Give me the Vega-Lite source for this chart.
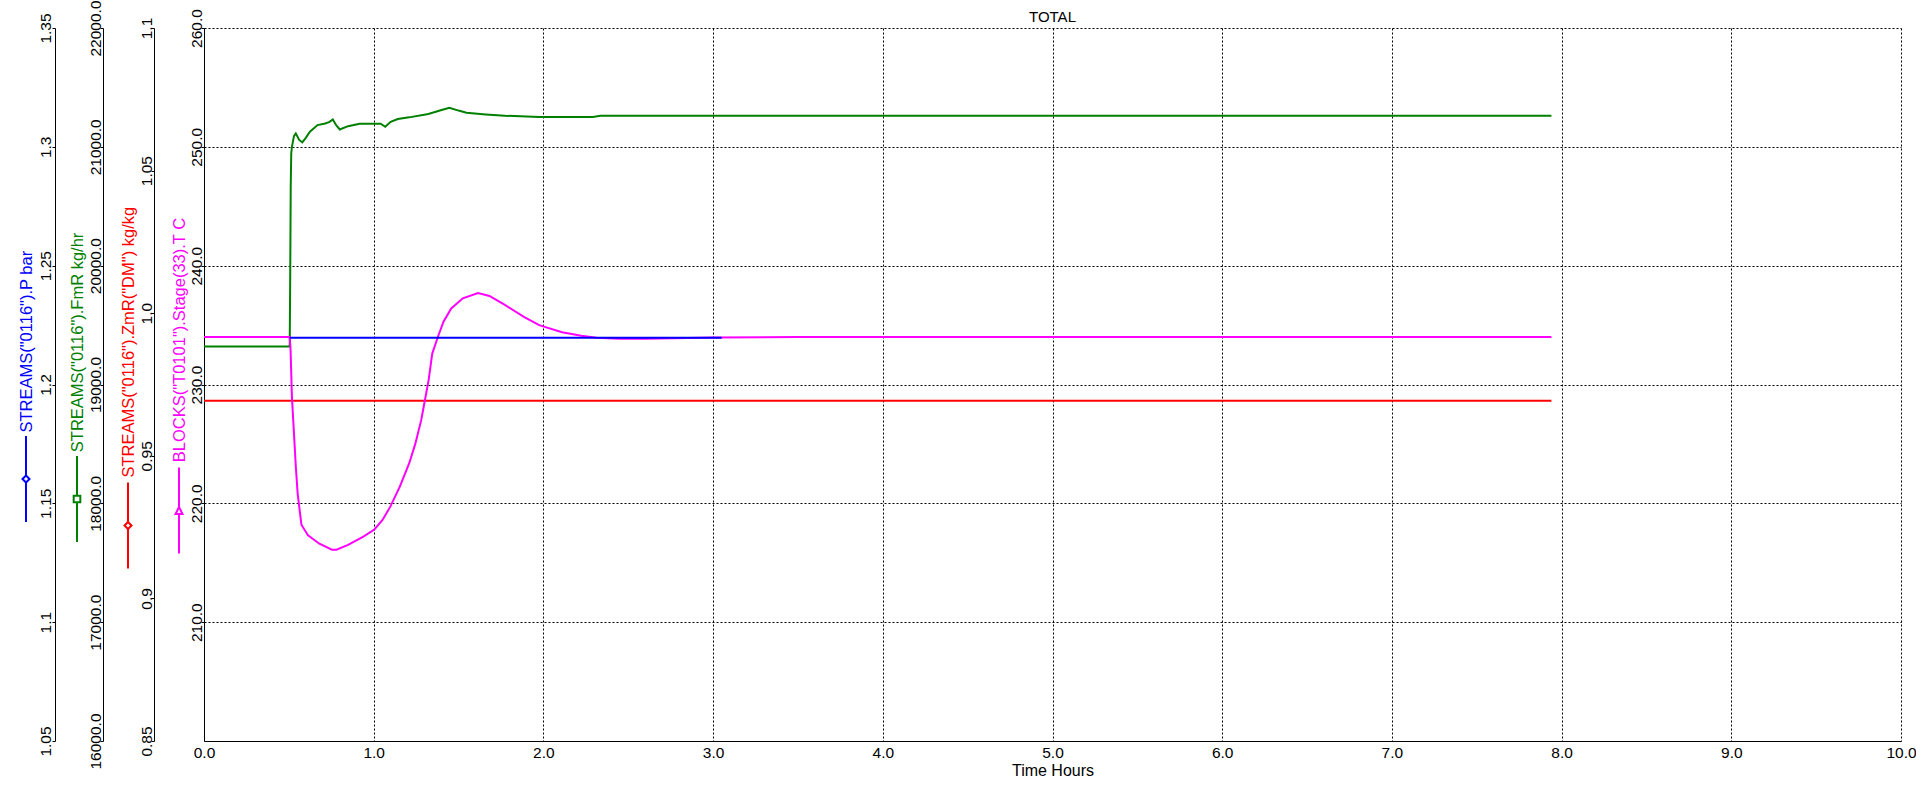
{
  "$schema": "https://vega.github.io/schema/vega-lite/v6.json",
  "autosize": {"type": "none"},
  "padding": {"left": 204, "top": 28, "right": 15, "bottom": 47},
  "width": 1697,
  "height": 713,
  "background": "#ffffff",
  "title": {"text": "TOTAL", "fontSize": 15, "fontWeight": "normal", "baseline": "alphabetic", "offset": -37, "color": "#000000", "anchor": "middle"},
  "config": {
    "font": "Liberation Sans",
    "view": {"stroke": null},
    "axis": {"labelColor": "#000000", "domainColor": "#000000", "tickColor": "#000000", "labelFontSize": 15.5, "labelFlush": false, "labelOverlap": false, "labelBound": false, "titleFontWeight": "normal", "domainWidth": 1, "tickWidth": 1},
    "line": {"strokeWidth": 2}
  },
  "datasets": {
    "T": [
      {"t": 0, "v": 234.0}, {"t": 0.505, "v": 234.0}, {"t": 0.51, "v": 233.0}, {"t": 0.518, "v": 229.0}, {"t": 0.527, "v": 226.7},
      {"t": 0.541, "v": 223.1}, {"t": 0.552, "v": 220.8}, {"t": 0.574, "v": 218.2}, {"t": 0.613, "v": 217.3}, {"t": 0.68, "v": 216.6},
      {"t": 0.754, "v": 216.1}, {"t": 0.781, "v": 216.1}, {"t": 0.849, "v": 216.5}, {"t": 0.939, "v": 217.2}, {"t": 1.004, "v": 217.8},
      {"t": 1.052, "v": 218.6}, {"t": 1.097, "v": 219.7}, {"t": 1.154, "v": 221.4}, {"t": 1.21, "v": 223.4}, {"t": 1.245, "v": 225.0},
      {"t": 1.28, "v": 227.0}, {"t": 1.302, "v": 228.7}, {"t": 1.324, "v": 230.4}, {"t": 1.345, "v": 232.6}, {"t": 1.378, "v": 234.0},
      {"t": 1.412, "v": 235.3}, {"t": 1.457, "v": 236.4}, {"t": 1.525, "v": 237.25}, {"t": 1.615, "v": 237.7}, {"t": 1.682, "v": 237.45},
      {"t": 1.773, "v": 236.7}, {"t": 1.885, "v": 235.7}, {"t": 1.975, "v": 235.0}, {"t": 2.11, "v": 234.4}, {"t": 2.223, "v": 234.1},
      {"t": 2.313, "v": 233.93}, {"t": 2.448, "v": 233.85}, {"t": 2.606, "v": 233.85}, {"t": 3.011, "v": 233.96}, {"t": 3.5, "v": 234.0},
      {"t": 7.94, "v": 234.0}
    ],
    "P": [
      {"t": 0.505, "v": 1.2197}, {"t": 3.05, "v": 1.2197}
    ],
    "Z": [
      {"t": 0, "v": 0.9693}, {"t": 7.94, "v": 0.9693}
    ],
    "F": [
      {"t": 0, "v": 19320}, {"t": 0.505, "v": 19320}, {"t": 0.508, "v": 19900}, {"t": 0.511, "v": 20662}, {"t": 0.514, "v": 20944},
      {"t": 0.518, "v": 20997}, {"t": 0.53, "v": 21090}, {"t": 0.541, "v": 21113}, {"t": 0.56, "v": 21060}, {"t": 0.579, "v": 21037},
      {"t": 0.6, "v": 21075}, {"t": 0.624, "v": 21127}, {"t": 0.669, "v": 21183}, {"t": 0.714, "v": 21197}, {"t": 0.74, "v": 21210},
      {"t": 0.759, "v": 21231}, {"t": 0.78, "v": 21180}, {"t": 0.8, "v": 21146}, {"t": 0.849, "v": 21174}, {"t": 0.917, "v": 21194},
      {"t": 1.041, "v": 21194}, {"t": 1.068, "v": 21169}, {"t": 1.1, "v": 21210}, {"t": 1.142, "v": 21234}, {"t": 1.209, "v": 21248},
      {"t": 1.322, "v": 21276}, {"t": 1.4, "v": 21310}, {"t": 1.446, "v": 21329}, {"t": 1.5, "v": 21305}, {"t": 1.547, "v": 21287},
      {"t": 1.66, "v": 21273}, {"t": 1.773, "v": 21262}, {"t": 1.975, "v": 21251}, {"t": 2.291, "v": 21251}, {"t": 2.336, "v": 21262},
      {"t": 7.94, "v": 21262}
    ]
  },
  "encoding": {
    "x": {
      "field": "t", "type": "quantitative",
      "scale": {"domain": [0, 10], "nice": false, "zero": false},
      "axis": {"values": [0, 1, 2, 3, 4, 5, 6, 7, 8, 9, 10], "format": ".1f", "title": "Time Hours", "grid": true, "gridDash": [2, 2], "gridColor": "#000000", "gridOpacity": 1, "ticks": false, "labelPadding": 4, "titleFontSize": 16, "titleColor": "#000000", "titlePadding": 2}
    }
  },
  "layer": [
    {
      "data": {"name": "Z"},
      "mark": {"type": "line", "strokeWidth": 2},
      "encoding": {
        "y": {
          "field": "v", "type": "quantitative",
          "scale": {"domain": [0.85, 1.1], "nice": false, "zero": false},
          "axis": {"orient": "left", "offset": 50, "values": [0.85, 0.9, 0.95, 1, 1.05, 1.1], "labelExpr": "datum.value == 1 ? '1.0' : format(datum.value, '~g')", "labelAngle": 270, "labelAlign": "center", "labelBaseline": "alphabetic", "tickSize": 3, "labelPadding": 0, "grid": false,
            "title": "STREAMS(\"0116\").ZmR(\"DM\") kg/kg", "titleColor": "#ff0000", "titleFontSize": 16.5, "titleAngle": 270, "titleAlign": "left", "titleBaseline": "middle", "titleX": -26, "titleY": 449}
        },
        "color": {
          "datum": "ZmR", "scale": {"range": ["#ff0000"]},
          "legend": {"orient": "none", "legendX": -120, "legendY": 453.5, "title": null, "labelExpr": "''", "labelOffset": 0, "padding": 0,
            "symbolType": "M0,-1V-0.0814M0,0.0814V1M0,-0.0814L0.0814,0L0,0.0814L-0.0814,0Z", "symbolSize": 7396, "symbolStrokeWidth": 2,
            "encode": {"symbols": {"update": {"fill": {"value": "#ffffff"}, "stroke": {"value": "#ff0000"}, "strokeWidth": {"value": 2}, "opacity": {"value": 1}}}}}
        }
      }
    },
    {
      "data": {"name": "F"},
      "mark": {"type": "line", "strokeWidth": 2},
      "encoding": {
        "y": {
          "field": "v", "type": "quantitative",
          "scale": {"domain": [16000, 22000], "nice": false, "zero": false},
          "axis": {"orient": "left", "offset": 101, "values": [16000, 17000, 18000, 19000, 20000, 21000, 22000], "format": ".1f", "labelAngle": 270, "labelAlign": "center", "labelBaseline": "alphabetic", "tickSize": 3, "labelPadding": 0, "grid": false,
            "title": "STREAMS(\"0116\").FmR kg/hr", "titleColor": "#008000", "titleFontSize": 16.5, "titleAngle": 270, "titleAlign": "left", "titleBaseline": "middle", "titleX": -26, "titleY": 423.7}
        },
        "color": {
          "datum": "FmR", "scale": {"range": ["#008000"]},
          "legend": {"orient": "none", "legendX": -171, "legendY": 427, "title": null, "labelExpr": "''", "labelOffset": 0, "padding": 0,
            "symbolType": "M0,-1V-0.077M0,0.077V1M-0.077,-0.077H0.077V0.077H-0.077Z", "symbolSize": 7396, "symbolStrokeWidth": 2,
            "encode": {"symbols": {"update": {"fill": {"value": "#ffffff"}, "stroke": {"value": "#008000"}, "strokeWidth": {"value": 2}, "opacity": {"value": 1}}}}}
        }
      }
    },
    {
      "data": {"name": "T"},
      "mark": {"type": "line", "strokeWidth": 2},
      "encoding": {
        "y": {
          "field": "v", "type": "quantitative",
          "scale": {"domain": [200, 260], "nice": false, "zero": false},
          "axis": {"orient": "left", "offset": 0, "values": [210, 220, 230, 240, 250, 260], "format": ".1f", "labelAngle": 270, "labelAlign": "center", "labelBaseline": "alphabetic", "tickSize": 3, "labelPadding": 0,
            "grid": true, "gridDash": [2, 2], "gridColor": "#000000", "gridOpacity": 1,
            "title": "BLOCKS(\"T0101\").Stage(33).T C", "titleColor": "#ff00ff", "titleFontSize": 16.5, "titleAngle": 270, "titleAlign": "left", "titleBaseline": "middle", "titleX": -25, "titleY": 433.7}
        },
        "color": {
          "datum": "T", "scale": {"range": ["#ff00ff"]},
          "legend": {"orient": "none", "legendX": -69, "legendY": 438.5, "title": null, "labelExpr": "''", "labelOffset": 0, "padding": 0,
            "symbolType": "M0,-1V-0.08M0,0.08V1M0,-0.08L0.08,0.08H-0.08Z", "symbolSize": 7396, "symbolStrokeWidth": 2,
            "encode": {"symbols": {"update": {"fill": {"value": "#ffffff"}, "stroke": {"value": "#ff00ff"}, "strokeWidth": {"value": 2}, "opacity": {"value": 1}}}}}
        }
      }
    },
    {
      "data": {"name": "P"},
      "mark": {"type": "line", "strokeWidth": 2},
      "encoding": {
        "y": {
          "field": "v", "type": "quantitative",
          "scale": {"domain": [1.05, 1.35], "nice": false, "zero": false},
          "axis": {"orient": "left", "offset": 149, "values": [1.05, 1.1, 1.15, 1.2, 1.25, 1.3, 1.35], "format": "~g", "labelAngle": 270, "labelAlign": "center", "labelBaseline": "alphabetic", "tickSize": 3, "labelPadding": 2, "grid": false,
            "title": "STREAMS(\"0116\").P bar", "titleColor": "#0000ff", "titleFontSize": 16.5, "titleAngle": 270, "titleAlign": "left", "titleBaseline": "middle", "titleX": -29, "titleY": 404}
        },
        "color": {
          "datum": "P", "scale": {"range": ["#0000ff"]},
          "legend": {"orient": "none", "legendX": -222, "legendY": 407, "title": null, "labelExpr": "''", "labelOffset": 0, "padding": 0,
            "symbolType": "M0,-1V-0.0814M0,0.0814V1M0,-0.0814L0.0814,0L0,0.0814L-0.0814,0Z", "symbolSize": 7396, "symbolStrokeWidth": 2,
            "encode": {"symbols": {"update": {"fill": {"value": "#ffffff"}, "stroke": {"value": "#0000ff"}, "strokeWidth": {"value": 2}, "opacity": {"value": 1}}}}}
        }
      }
    }
  ],
  "resolve": {"scale": {"y": "independent", "color": "independent"}, "axis": {"y": "independent"}, "legend": {"color": "independent"}}
}
